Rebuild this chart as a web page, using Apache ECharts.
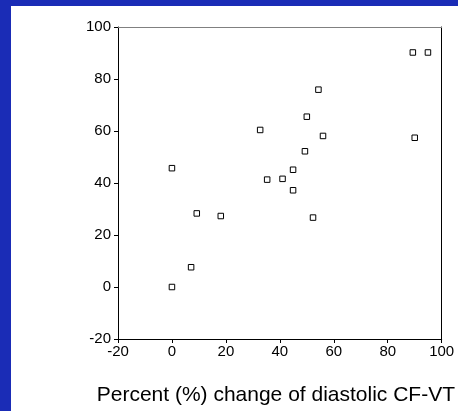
<!DOCTYPE html>
<html>
<head>
<meta charset="utf-8">
<script src="https://cdn.jsdelivr.net/npm/echarts@6/dist/echarts.min.js"></script>
<style>
  html, body { margin: 0; padding: 0; width: 458px; height: 411px; background: #1a2cb6; overflow: hidden; }
  #chart { position: absolute; left: 11px; top: 6px; width: 447px; height: 405px; background: #ffffff; }
</style>
</head>
<body>
<div id="chart"></div>
<script>
// Data
const xValues = [54.3, 50.0, 32.7, 56.0, 90.0, 49.3, 0, 44.9, 35.3, 41.0, 44.9, 9.2, 18.1, 52.3, 7.1, 0, 89.3, 94.9];
const yValues = [75.9, 65.5, 60.4, 58.1, 57.4, 52.2, 45.7, 45.1, 41.3, 41.6, 37.2, 28.3, 27.3, 26.7, 7.6, 0, 90.2, 90.2];
const xTicks = [-20, 0, 20, 40, 60, 80, 100];
const yTicks = [-20, 0, 20, 40, 60, 80, 100];
const xTitle = 'Percent (%) change of diastolic CF-VT';

const points = xValues.map((x, i) => [x, yValues[i]]);
const font = 'Liberation Sans, Arial, Helvetica, sans-serif';

const chart = echarts.init(document.getElementById('chart'), null, { renderer: 'canvas' });
chart.setOption({
  animation: false,
  backgroundColor: '#ffffff',
  grid: { left: 107, top: 21, right: 12, bottom: 70, containLabel: false },
  xAxis: [
    {
      type: 'value',
      position: 'bottom',
      min: xTicks[0], max: xTicks[xTicks.length - 1], interval: 20,
      axisLine: { show: true, onZero: false, lineStyle: { color: '#000', width: 1 } },
      axisTick: { show: true, length: 4, lineStyle: { color: '#000' } },
      axisLabel: { color: '#000', fontSize: 15, fontFamily: font, margin: 5 },
      splitLine: { show: false },
      name: xTitle,
      nameLocation: 'middle',
      nameGap: 46,
      nameTextStyle: { color: '#000', fontSize: 21, fontFamily: font, padding: [0, 8, 0, 0] }
    },
    {
      type: 'value',
      position: 'top',
      min: xTicks[0], max: xTicks[xTicks.length - 1], interval: 20,
      axisLine: { show: true, onZero: false, lineStyle: { color: '#808080', width: 1 } },
      axisTick: { show: false },
      axisLabel: { show: false },
      splitLine: { show: false }
    }
  ],
  yAxis: [
    {
      type: 'value',
      position: 'left',
      min: yTicks[0], max: yTicks[yTicks.length - 1], interval: 20,
      axisLine: { show: true, onZero: false, lineStyle: { color: '#000', width: 1 } },
      axisTick: { show: true, length: 4, lineStyle: { color: '#000' } },
      axisLabel: { color: '#000', fontSize: 15, fontFamily: font, margin: 7 },
      splitLine: { show: false }
    },
    {
      type: 'value',
      position: 'right',
      min: yTicks[0], max: yTicks[yTicks.length - 1], interval: 20,
      axisLine: { show: true, onZero: false, lineStyle: { color: '#000', width: 1 } },
      axisTick: { show: false },
      axisLabel: { show: false },
      splitLine: { show: false }
    }
  ],
  series: [{
    type: 'scatter',
    xAxisIndex: 0,
    yAxisIndex: 0,
    data: points,
    symbol: 'rect',
    symbolSize: 5.5,
    itemStyle: { color: '#ffffff', borderColor: '#000000', borderWidth: 1, opacity: 1 }
  }]
});
</script>
</body>
</html>
